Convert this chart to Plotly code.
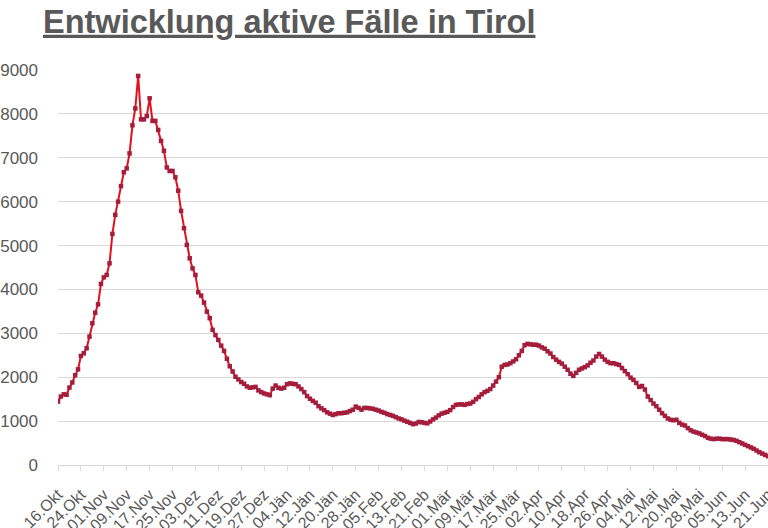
import datetime
import plotly.graph_objects as go

# Tagesdaten ab 16.10.2020
start_date = datetime.date(2020, 10, 16)
month_names = ["Jän", "Feb", "Mär", "Apr", "Mai", "Jun",
               "Jul", "Aug", "Sep", "Okt", "Nov", "Dez"]

active_cases = [
    1445, 1560, 1610, 1600, 1765, 1880, 2045, 2180, 2485, 2545,
    2660, 2925, 3230, 3470, 3660, 4125, 4275, 4330, 4595, 5265,
    5700, 6000, 6355, 6670, 6760, 7100, 7740, 8125, 8865, 7875,
    7875, 7950, 8355, 7840, 7840, 7635, 7385, 7160, 6780, 6700,
    6700, 6555, 6250, 5790, 5395, 5015, 4710, 4480, 4330, 3935,
    3860, 3700, 3495, 3345, 3080, 2960, 2850, 2720, 2600, 2420,
    2250, 2130, 2010, 1950, 1890, 1850, 1790, 1760, 1770, 1780,
    1700, 1660, 1630, 1610, 1590, 1740, 1810, 1760, 1740, 1760,
    1840, 1860, 1850, 1840, 1790, 1730, 1660, 1570, 1510, 1460,
    1420, 1340, 1290, 1250, 1200, 1170, 1140, 1160, 1180, 1180,
    1190, 1200, 1230, 1260, 1330, 1300, 1260, 1300, 1300, 1290,
    1280, 1260, 1240, 1210, 1190, 1160, 1140, 1120, 1090, 1060,
    1040, 1010, 985, 960, 930, 945, 980, 975, 960, 950,
    990, 1040, 1080, 1130, 1170, 1190, 1210, 1250, 1320, 1370,
    1380, 1380, 1370, 1390, 1400, 1440, 1500, 1550, 1610, 1660,
    1690, 1730, 1810, 1900, 2000, 2240, 2280, 2290, 2320, 2360,
    2410, 2500, 2600, 2730, 2760, 2750, 2740, 2740, 2720, 2680,
    2650, 2590, 2540, 2460, 2400, 2350, 2310, 2240, 2170, 2080,
    2030, 2100, 2170, 2200, 2230, 2270, 2330, 2380, 2470, 2530,
    2470, 2400, 2350, 2320, 2320, 2300, 2280, 2210, 2140, 2070,
    1990, 1940, 1870, 1780, 1800, 1720, 1560, 1480, 1400, 1340,
    1260, 1180, 1120, 1060, 1030, 1020, 1030, 960, 920, 900,
    840, 790, 760, 740, 720, 690, 660, 620, 600, 590,
    600, 600, 590, 590, 590, 580, 570, 550, 520, 490,
    460, 430, 400, 370, 330, 290, 260, 230, 200,
]

dates = []
for i in range(len(active_cases)):
    d = start_date + datetime.timedelta(days=i)
    dates.append(f"{d.day:02d}.{month_names[d.month - 1]}")

tick_labels = dates[::8]

fig = go.Figure()
fig.add_trace(go.Scatter(
    x=dates, y=active_cases,
    mode="lines+markers",
    line=dict(color="#e3101e", width=2),
    marker=dict(symbol="square", size=4.5, color="#a51d3c"),
    showlegend=False,
))

fig.update_layout(
    width=768, height=528,
    margin=dict(l=58, r=0, t=70, b=63, autoexpand=False),
    paper_bgcolor="white", plot_bgcolor="white",
    font=dict(family="Liberation Sans, Arial", color="#595959"),
    title=dict(
        text="<b><u>Entwicklung aktive Fälle in Tirol</u></b>",
        font=dict(size=32.5, color="#595959"),
        xref="container", yref="container",
        x=43 / 768, xanchor="left",
        y=1 - 10 / 528, yanchor="top",
    ),
    xaxis=dict(
        type="category",
        range=[0, len(dates) - 1],
        tickmode="array", tickvals=tick_labels, ticktext=tick_labels,
        tickangle=-45, tickfont=dict(size=16, color="#595959"),
        ticks="outside", ticklen=5, tickcolor="#d9d9d9",
        ticklabelstandoff=8,
        showline=True, linecolor="#d9d9d9", linewidth=1,
        showgrid=False, zeroline=False, automargin=False,
    ),
    yaxis=dict(
        range=[0, 9000], dtick=1000,
        tickfont=dict(size=17, color="#595959"),
        gridcolor="#d9d9d9", gridwidth=1,
        zeroline=False, showline=False,
        ticklabelstandoff=19, automargin=False,
    ),
)

# Seitenrand entfernen, damit die Grafik bei 0,0 beginnt
fig.write_html(
    "out.html",
    config={"displayModeBar": False},
    post_script="document.body.style.margin='0';",
)
